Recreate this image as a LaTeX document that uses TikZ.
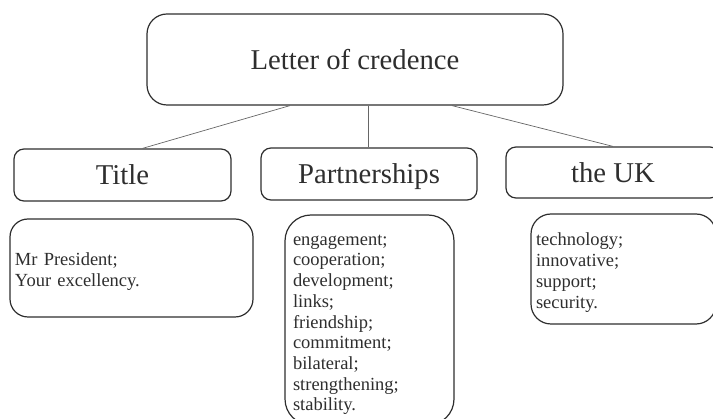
\documentclass[tikz,border=0pt]{standalone}
\usepackage{fontspec}
\setmainfont{Liberation Serif}
\usetikzlibrary{positioning}
\definecolor{ink}{HTML}{2E2E2E}
\definecolor{wire}{HTML}{666666}
% taller first line pushes a list a little below the box centre
\newcommand{\liststrut}{\rule{0pt}{20pt}}
\begin{document}
\begin{tikzpicture}[x=1pt,y=-1pt,
  headbox/.style={draw=ink, line width=1.2pt, rounded corners=10pt, inner sep=0pt,
    text=ink, font=\fontsize{28.7}{30}\selectfont, text height=19.5pt, text depth=0pt},
  listbox/.style={draw=ink, line width=1.2pt, inner sep=0pt, inner xsep=5pt,
    text=ink, align=left, font=\fontsize{18.5}{20.7}\selectfont},
  link/.style={draw=wire, line width=0.7pt}]
\useasboundingbox (0,0) rectangle (713,419);
\clip (0,0) rectangle (713,419);

% heading boxes
\node[headbox, rounded corners=20pt, minimum width=416pt, minimum height=91pt] (top) at (355,59.5) {Letter of credence};
\node[headbox, minimum width=217pt, minimum height=52pt] (title) at (122.5,175) {Title};
\node[headbox, minimum width=216pt, minimum height=52pt] (partner) at (369,174) {Partnerships};
\node[headbox, minimum width=214pt, minimum height=51pt] (uk) at (613,172.5) {the UK};

% word lists
\node[listbox, rounded corners=18pt, minimum width=243pt, minimum height=98pt, text width=233pt] (titlelist) at (131.5,268)
  {\liststrut Mr President;\\Your excellency.};
\node[listbox, rounded corners=26pt, inner xsep=8pt, minimum width=169pt, minimum height=210pt, text width=153pt] (partnerlist) at (369.5,320)
  {\liststrut engagement;\\cooperation;\\development;\\links;\\friendship;\\commitment;\\bilateral;\\strengthening;\\stability.};
\node[listbox, rounded corners=20pt, minimum width=185pt, minimum height=110pt, text width=175pt] (uklist) at (623.5,269)
  {\liststrut technology;\\innovative;\\support;\\security.};

% connectors from the main box
\draw[link] ([xshift=-65pt]top.south) -- ([xshift=20pt]title.north);
\draw[link] ([xshift=13pt]top.south) -- ([xshift=-1pt]partner.north);
\draw[link] ([xshift=97pt]top.south) -- (uk.north);
\end{tikzpicture}
\end{document}
